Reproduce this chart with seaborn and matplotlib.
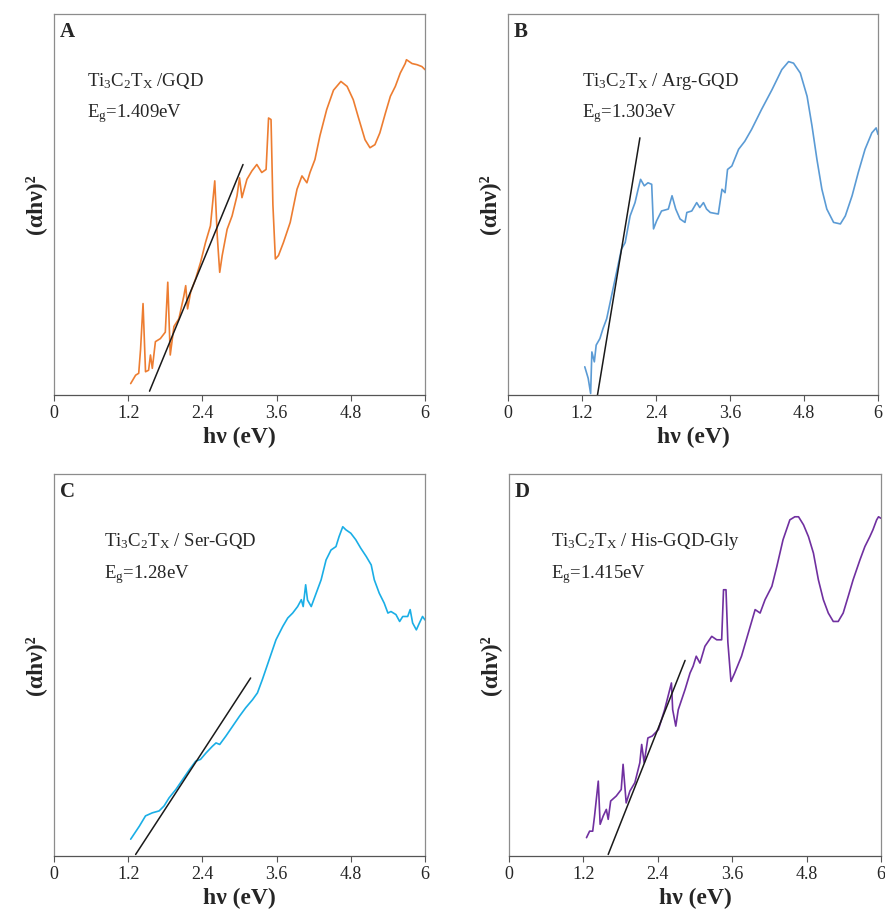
import numpy as np
import pandas as pd
import seaborn as sns
import matplotlib
matplotlib.use("Agg")
import matplotlib.pyplot as plt

# ---------------- data ----------------
xA = [1.24, 1.32, 1.37, 1.40, 1.44, 1.48, 1.53, 1.56, 1.59, 1.64, 1.72, 1.80, 1.84, 1.88, 1.94,
      2.02, 2.10, 2.13, 2.16, 2.21, 2.29, 2.37, 2.45, 2.53, 2.60, 2.64, 2.68, 2.72, 2.80, 2.88,
      2.96, 3.00, 3.04, 3.12, 3.20, 3.28, 3.36, 3.43, 3.47, 3.51, 3.54, 3.58, 3.63, 3.71, 3.82,
      3.93, 4.01, 4.09, 4.14, 4.22, 4.30, 4.41, 4.52, 4.64, 4.74, 4.84, 4.92, 5.03, 5.11, 5.19,
      5.27, 5.36, 5.44, 5.52, 5.60, 5.68, 5.70, 5.79, 5.87, 5.95, 6.00]
yA = [0.030, 0.052, 0.057, 0.120, 0.240, 0.061, 0.065, 0.105, 0.070, 0.140, 0.148, 0.165, 0.296,
      0.105, 0.180, 0.200, 0.260, 0.287, 0.226, 0.270, 0.305, 0.348, 0.400, 0.444, 0.562, 0.418,
      0.322, 0.366, 0.435, 0.470, 0.523, 0.570, 0.518, 0.566, 0.588, 0.605, 0.584, 0.592, 0.727,
      0.723, 0.500, 0.357, 0.366, 0.400, 0.453, 0.540, 0.575, 0.557, 0.584, 0.618, 0.680, 0.749,
      0.800, 0.823, 0.810, 0.775, 0.730, 0.670, 0.649, 0.657, 0.688, 0.740, 0.784, 0.810, 0.845,
      0.870, 0.880, 0.870, 0.867, 0.862, 0.854]

xB = [1.245, 1.30, 1.34, 1.36, 1.40, 1.43, 1.49, 1.54, 1.60, 1.68, 1.76, 1.84, 1.90, 1.98, 2.06,
      2.11, 2.15, 2.21, 2.27, 2.33, 2.36, 2.41, 2.49, 2.60, 2.66, 2.72, 2.79, 2.87, 2.90, 2.98,
      3.06, 3.11, 3.17, 3.22, 3.28, 3.41, 3.47, 3.52, 3.56, 3.63, 3.74, 3.84, 3.95, 4.11, 4.28,
      4.44, 4.55, 4.63, 4.74, 4.85, 4.93, 5.01, 5.09, 5.17, 5.28, 5.39, 5.47, 5.58, 5.68, 5.79,
      5.90, 5.97, 6.00]
yB = [0.074, 0.044, 0.004, 0.113, 0.087, 0.131, 0.148, 0.174, 0.200, 0.261, 0.322, 0.383, 0.400,
      0.470, 0.505, 0.540, 0.566, 0.549, 0.557, 0.553, 0.436, 0.457, 0.483, 0.488, 0.523, 0.488,
      0.462, 0.453, 0.479, 0.483, 0.505, 0.492, 0.505, 0.488, 0.479, 0.475, 0.540, 0.531, 0.592,
      0.601, 0.645, 0.666, 0.697, 0.749, 0.801, 0.854, 0.875, 0.871, 0.845, 0.784, 0.706, 0.618,
      0.540, 0.488, 0.453, 0.449, 0.470, 0.523, 0.584, 0.645, 0.688, 0.701, 0.684]

xC = [1.24, 1.38, 1.48, 1.59, 1.70, 1.78, 1.86, 1.97, 2.08, 2.19, 2.29, 2.37, 2.46, 2.56, 2.62,
      2.68, 2.78, 2.89, 3.00, 3.10, 3.21, 3.29, 3.37, 3.48, 3.59, 3.70, 3.78, 3.86, 3.94, 4.00,
      4.03, 4.07, 4.10, 4.16, 4.24, 4.32, 4.40, 4.48, 4.56, 4.61, 4.67, 4.72, 4.80, 4.88, 4.96,
      5.05, 5.13, 5.18, 5.26, 5.34, 5.40, 5.45, 5.53, 5.59, 5.64, 5.72, 5.76, 5.80, 5.86, 5.91,
      5.96, 6.00]
yC = [0.044, 0.078, 0.105, 0.113, 0.118, 0.131, 0.152, 0.174, 0.200, 0.226, 0.248, 0.253, 0.270,
      0.287, 0.296, 0.292, 0.314, 0.340, 0.366, 0.388, 0.409, 0.427, 0.462, 0.514, 0.566, 0.601,
      0.623, 0.636, 0.653, 0.671, 0.653, 0.710, 0.670, 0.653, 0.688, 0.723, 0.775, 0.801, 0.810,
      0.836, 0.862, 0.854, 0.845, 0.828, 0.806, 0.784, 0.762, 0.723, 0.688, 0.662, 0.636, 0.640,
      0.632, 0.614, 0.627, 0.627, 0.645, 0.610, 0.592, 0.610, 0.627, 0.618]

xD = [1.25, 1.30, 1.35, 1.38, 1.44, 1.47, 1.52, 1.57, 1.60, 1.64, 1.73, 1.81, 1.84, 1.89, 1.95,
      2.03, 2.11, 2.14, 2.18, 2.24, 2.31, 2.41, 2.51, 2.62, 2.64, 2.69, 2.73, 2.84, 2.92, 2.97,
      3.02, 3.08, 3.16, 3.27, 3.35, 3.43, 3.46, 3.50, 3.53, 3.58, 3.64, 3.75, 3.86, 3.97, 4.05,
      4.13, 4.24, 4.32, 4.42, 4.53, 4.61, 4.67, 4.75, 4.83, 4.91, 4.99, 5.07, 5.15, 5.23, 5.31,
      5.39, 5.47, 5.55, 5.66, 5.74, 5.82, 5.87, 5.93, 5.96, 6.00]
yD = [0.048, 0.065, 0.065, 0.105, 0.196, 0.083, 0.105, 0.122, 0.096, 0.144, 0.157, 0.174, 0.240,
      0.139, 0.170, 0.192, 0.244, 0.292, 0.244, 0.309, 0.314, 0.331, 0.383, 0.453, 0.383, 0.340,
      0.383, 0.436, 0.479, 0.497, 0.523, 0.505, 0.549, 0.575, 0.566, 0.566, 0.697, 0.697, 0.560,
      0.457, 0.479, 0.523, 0.584, 0.645, 0.636, 0.671, 0.706, 0.758, 0.828, 0.880, 0.888, 0.888,
      0.867, 0.836, 0.793, 0.723, 0.671, 0.636, 0.614, 0.614, 0.636, 0.679, 0.723, 0.775, 0.810,
      0.836, 0.854, 0.880, 0.888, 0.884]

# tangent (Tauc) fit lines: endpoints
tanA_x = [1.545, 3.057]; tanA_y = [0.010, 0.605]
tanB_x = [1.451, 2.139]; tanB_y = [0.000, 0.675]
tanC_x = [1.320, 3.180]; tanC_y = [0.004, 0.466]
tanD_x = [1.600, 2.840]; tanD_y = [0.004, 0.512]

panel_letters = ["A", "B", "C", "D"]
sample_labels = ["Ti$\\mathregular{_3}$C$\\mathregular{_2}$T$\\mathregular{_X}$ /GQD",
                 "Ti$\\mathregular{_3}$C$\\mathregular{_2}$T$\\mathregular{_X}$ / Arg-GQD",
                 "Ti$\\mathregular{_3}$C$\\mathregular{_2}$T$\\mathregular{_X}$ / Ser-GQD",
                 "Ti$\\mathregular{_3}$C$\\mathregular{_2}$T$\\mathregular{_X}$ / His-GQD-Gly"]
gap_labels = ["E$\\mathregular{_g}$=1.409eV", "E$\\mathregular{_g}$=1.303eV",
              "E$\\mathregular{_g}$=1.28eV", "E$\\mathregular{_g}$=1.415eV"]
xticks = [0, 1.2, 2.4, 3.6, 4.8, 6]
xtick_labels = ["0", "1.2", "2.4", "3.6", "4.8", "6"]

# ---------------- style ----------------
sns.set_theme(style="white")
plt.rcParams["font.family"] = ["Liberation Serif", "DejaVu Serif"]
plt.rcParams["mathtext.fontset"] = "custom"
plt.rcParams["mathtext.rm"] = "Liberation Serif"

colors = ["#ED7D31", "#5B9BD5", "#1AAEE6", "#7030A0"]

fig = plt.figure(figsize=(8.85, 9.11), dpi=100)
positions = [
    [54 / 885, 1 - 395 / 911, 371 / 885, 381 / 911],
    [508 / 885, 1 - 395 / 911, 370 / 885, 381 / 911],
    [54 / 885, 1 - 856 / 911, 371 / 885, 382 / 911],
    [509 / 885, 1 - 856 / 911, 372 / 885, 382 / 911],
]
curves = [(xA, yA), (xB, yB), (xC, yC), (xD, yD)]
tangents = [(tanA_x, tanA_y), (tanB_x, tanB_y), (tanC_x, tanC_y), (tanD_x, tanD_y)]
text_x = [0.089, 0.199, 0.135, 0.113]

for i in range(4):
    ax = fig.add_axes(positions[i])
    cx, cy = curves[i]
    df = pd.DataFrame({"x": cx, "y": cy})
    sns.lineplot(data=df, x="x", y="y", ax=ax, color=colors[i], lw=1.2,
                 estimator=None, sort=False)
    tx, ty = tangents[i]
    dft = pd.DataFrame({"x": tx, "y": ty})
    sns.lineplot(data=dft, x="x", y="y", ax=ax, color="#1a1a1a", lw=1.1,
                 estimator=None, sort=False)
    ax.set_xlim(0, 6)
    ax.set_ylim(0, 1)
    ax.set_xticks(xticks)
    ax.set_xticklabels(xtick_labels, fontsize=13)
    ax.set_yticks([])
    ax.tick_params(axis="x", direction="out", length=4, width=0.8, color="#555555",
                   pad=3, bottom=True)
    for side in ["top", "left", "right"]:
        ax.spines[side].set_color("#8c8c8c")
        ax.spines[side].set_linewidth(0.9)
    ax.spines["bottom"].set_color("#555555")
    ax.spines["bottom"].set_linewidth(0.9)
    ax.set_xlabel("hν (eV)", fontsize=17, fontweight="bold", labelpad=4)
    ax.set_ylabel("(αhν)²", fontsize=17, fontweight="bold", labelpad=6)
    ax.text(0.016, 0.94, panel_letters[i], transform=ax.transAxes, fontsize=15,
            fontweight="bold", ha="left", va="baseline")
    ax.text(text_x[i], 0.811, sample_labels[i], transform=ax.transAxes,
            fontsize=13.5, ha="left", va="baseline")
    ax.text(text_x[i], 0.728, gap_labels[i], transform=ax.transAxes,
            fontsize=13.5, ha="left", va="baseline")

fig.savefig("out.png", dpi=100)
